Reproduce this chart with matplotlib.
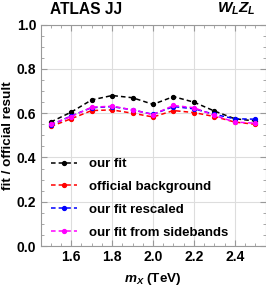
import matplotlib
matplotlib.use("Agg")
import matplotlib.pyplot as plt
from matplotlib.ticker import MultipleLocator

plt.rcParams['font.family'] = ['Liberation Sans', 'DejaVu Sans']
plt.rcParams['mathtext.fontset'] = 'custom'
plt.rcParams['mathtext.it'] = 'Liberation Sans:italic:bold'
plt.rcParams['mathtext.rm'] = 'Liberation Sans:bold'

mx = [1.5, 1.6, 1.7, 1.8, 1.9, 2.0, 2.1, 2.2, 2.3, 2.4, 2.5]
our_fit = [0.560, 0.605, 0.660, 0.680, 0.670, 0.640, 0.675, 0.650, 0.610, 0.575, 0.565]
official = [0.540, 0.575, 0.612, 0.615, 0.600, 0.583, 0.612, 0.603, 0.585, 0.560, 0.550]
rescaled = [0.545, 0.588, 0.625, 0.630, 0.615, 0.595, 0.630, 0.620, 0.595, 0.575, 0.573]
sidebands = [0.550, 0.585, 0.627, 0.632, 0.615, 0.594, 0.635, 0.625, 0.590, 0.560, 0.555]
labels = ["our fit", "official background", "our fit rescaled", "our fit from sidebands"]
colors = ["black", "#ff0000", "#0000ff", "#ff00ff"]

fig = plt.figure(figsize=(2.66, 2.87), dpi=100)
ax = fig.add_axes([40.5/266, 1-246/287, 225/266, (246-24.7)/287])

for y, lab, c in zip([our_fit, official, rescaled, sidebands], labels, colors):
    ax.plot(mx, y, color=c, lw=1.1, dashes=(3, 2), marker='o', ms=2.8,
            mec=c, mfc=c, label=lab)

ax.set_xlim(1.45, 2.55)
ax.set_ylim(0, 1.0)
ax.xaxis.set_minor_locator(MultipleLocator(0.05))
ax.yaxis.set_minor_locator(MultipleLocator(0.05))
ax.set_xticks([1.6, 1.8, 2.0, 2.2, 2.4])
ax.set_xticklabels(["1.6", "1.8", "2.0", "2.2", "2.4"])
ax.set_yticks([0.0, 0.2, 0.4, 0.6, 0.8, 1.0])
ax.set_yticklabels(["0.0", "0.2", "0.4", "0.6", "0.8", "1.0"])
ax.grid(True, which='major', color='#dddddd', lw=0.8)
ax.set_axisbelow(True)
frame_c = '#999999'
for s in ax.spines.values():
    s.set_color(frame_c)
    s.set_linewidth(0.8)
ax.tick_params(which='both', direction='in', top=True, right=True, color=frame_c,
               labelsize=10, pad=3)
ax.tick_params(which='major', length=4)
ax.tick_params(which='minor', length=2)
for t in ax.get_xticklabels() + ax.get_yticklabels():
    t.set_fontweight('bold')

ax.set_xlabel(r"$m_X$ (TeV)", fontsize=9.7, fontweight='bold', labelpad=5)
ax.set_ylabel("fit / official result", fontsize=9.7, fontweight='bold', labelpad=2)

fig.text(50/266, 1-9/287, "ATLAS JJ", fontsize=11.2, fontweight='bold',
         ha='left', va='center')
fig.text(256/266, 1-9/287, r"$W_L Z_L$", fontsize=11, ha='right', va='center')

leg = ax.legend(loc='upper left', bbox_to_anchor=(51/266, 1-158/287),
                bbox_transform=fig.transFigure, frameon=False,
                handlelength=2.0, handletextpad=0.9, labelspacing=0.8,
                borderpad=0, borderaxespad=0, prop={'weight': 'bold', 'size': 9.5})

fig.savefig("out.png", dpi=100)
